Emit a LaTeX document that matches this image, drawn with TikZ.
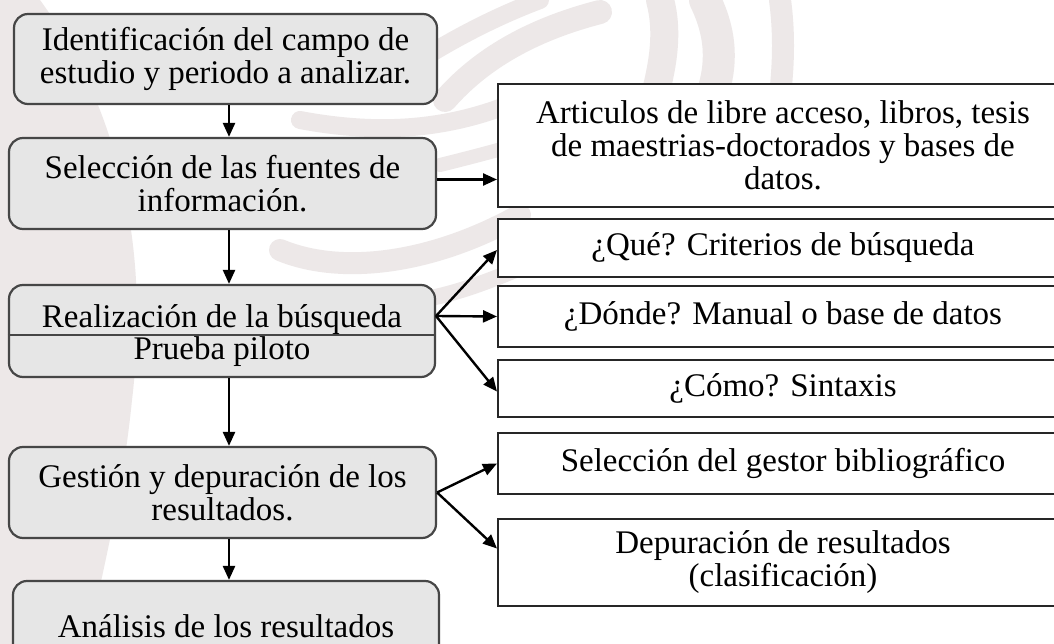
\documentclass[tikz,border=0pt]{standalone}
\usepackage{fontspec}
\setmainfont{Liberation Serif}
\usetikzlibrary{arrows.meta,calc}
\definecolor{wm}{RGB}{237,232,232}
\definecolor{lfill}{RGB}{230,230,230}
\definecolor{lborder}{RGB}{70,70,70}
\newcommand{\fsz}{\fontsize{33pt}{33pt}\selectfont}
\begin{document}
\begin{tikzpicture}[x=1pt,y=-1pt,
  lbox/.style={draw=lborder, line width=2.2pt, fill=lfill, rounded corners=14pt,
               align=center, inner sep=0pt, font=\fsz},
  rbox/.style={draw=black!85, line width=2pt, fill=white, align=center,
               inner sep=0pt, font=\fsz},
  plain/.style={inner sep=0pt, font=\fsz},
  arr/.style={line width=2.4pt, -{Triangle[length=14pt,width=12pt]}},
  band/.style={wm, line cap=round}]
\useasboundingbox (0,0) rectangle (1054,644);
\begin{scope}
\clip (0,0) rectangle (1054,644);
\fill[white] (0,0) rectangle (1054,644);
% watermark
\fill[wm] (0,0) -- (40,0) .. controls (120,110) and (150,250) .. (132,400)
  .. controls (122,500) and (100,580) .. (88,644) -- (0,644) -- cycle;
\draw[band, line width=24pt] (445,100) .. controls (480,60) and (530,30) .. (600,12);
\draw[band, line width=18pt] (420,60) .. controls (460,35) and (500,15) .. (540,0);
\draw[band, line width=28pt] (660,0) .. controls (668,30) and (664,60) .. (655,95);
\draw[band, line width=32pt] (705,0) .. controls (722,35) and (722,65) .. (712,95);
\draw[band, line width=22pt] (780,0) .. controls (784,30) and (784,60) .. (780,95);
\draw[band, line width=22pt] (280,250) .. controls (340,275) and (430,265) .. (520,215);
\draw[band, line width=18pt] (300,120) .. controls (380,135) and (450,130) .. (520,100);
\draw[band, line width=16pt] (420,300) .. controls (450,295) and (480,285) .. (520,268);
\draw[band, line width=14pt] (440,165) .. controls (460,160) and (480,155) .. (505,148);

% left column
\node[lbox, minimum width=423pt, minimum height=90pt] (b1) at (225.5,59)
  {Identificación del campo de\\estudio y periodo a analizar.};
\node[lbox, minimum width=427pt, minimum height=91pt] (b2) at (222.5,183.5)
  {Selección de las fuentes de\\información.};
\node[lbox, minimum width=426pt, minimum height=92pt] (b3) at (222,331) {};
\draw[lborder, line width=1.8pt] (b3.west |- 0,335) -- (b3.east |- 0,335);
\node[plain, anchor=base] (t3a) at (222,327) {Realización de la búsqueda};
\node[plain, anchor=base] (t3b) at (222,359) {Prueba piloto};
\node[lbox, minimum width=427pt, minimum height=91pt] (b4) at (222.5,492.5)
  {Gestión y depuración de los\\resultados.};
\node[lbox, minimum width=426pt, minimum height=90pt] (b5) at (226,626)
  {Análisis de los resultados};

% right column
\node[rbox, minimum width=570pt, minimum height=123pt] (A) at (783,145.5)
  {Articulos de libre acceso, libros, tesis\\de maestrias-doctorados y bases de\\datos.};
\node[rbox, minimum width=570pt, minimum height=58pt] (Q) at (783,248)
  {¿Qué? Criterios de búsqueda};
\node[rbox, minimum width=570pt, minimum height=61pt] (D) at (783,316.5)
  {¿Dónde? Manual o base de datos};
\node[rbox, minimum width=570pt, minimum height=57pt] (C) at (783,388.5)
  {¿Cómo? Sintaxis};
\node[rbox, minimum width=570pt, minimum height=61pt] (S) at (783,463.5)
  {Selección del gestor bibliográfico};
\node[rbox, minimum width=570pt, minimum height=87pt] (Dep) at (783,562.5)
  {Depuración de resultados\\(clasificación)};

% connectors
\coordinate (ax) at (229,0);
\draw[arr] (b1.south -| ax) -- (b2.north -| ax);
\draw[arr] (b2.south -| ax) -- (b3.north -| ax);
\draw[arr] (b3.south -| ax) -- (b4.north -| ax);
\draw[arr] (b4.south -| ax) -- (b5.north -| ax);
\draw[arr] ($(b2.east)+(0,-4)$) -- ($(b2.east -| A.west)+(0,-4)$);
\coordinate (f3) at (436,316);
\draw[arr] (f3) -- ($(Q.west)+(0,2)$);
\draw[arr] (f3) -- (D.west);
\draw[arr] (f3) -- ($(C.west)+(0,3)$);
\draw[arr] (b4.east) -- (S.west);
\draw[arr] (b4.east) -- ($(Dep.west)+(0,-14)$);
\end{scope}
\end{tikzpicture}
\end{document}
